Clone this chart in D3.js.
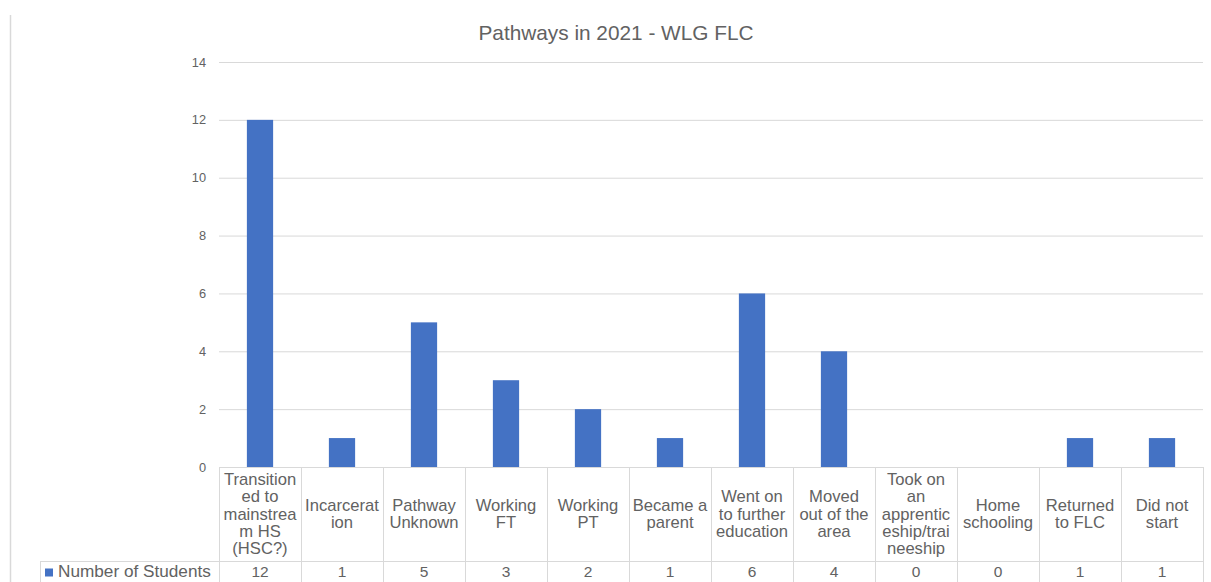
<!DOCTYPE html>
<html>
<head>
<meta charset="utf-8">
<script src="https://cdnjs.cloudflare.com/ajax/libs/d3/7.8.5/d3.min.js"></script>
<style>
  html, body { margin: 0; padding: 0; background: #fff; }
  svg { display: block; font-family: "Liberation Sans", Arial, sans-serif; }
</style>
</head>
<body>
<svg id="chart" width="1211" height="582"></svg>
<script>
const title = "Pathways in 2021 - WLG FLC";
const categories = [
  "Transition\ned to\nmainstrea\nm HS\n(HSC?)",
  "Incarcerat\nion",
  "Pathway\nUnknown",
  "Working\nFT",
  "Working\nPT",
  "Became a\nparent",
  "Went on\nto further\neducation",
  "Moved\nout of the\narea",
  "Took on\nan\napprentic\neship/trai\nneeship",
  "Home\nschooling",
  "Returned\nto FLC",
  "Did not\nstart"
];
const seriesName = "Number of Students";
const values = [12, 1, 5, 3, 2, 1, 6, 4, 0, 0, 1, 1];
const yTicks = [0, 2, 4, 6, 8, 10, 12, 14];

(function () {
const svg = d3.select("#chart");
const textColor = "#626262";
const gridColor = "#d9d9d9";
const barColor = "#4472C4";

const plotLeft = 219, plotRight = 1203, plotTop = 62, zeroY = 467;
const headerBottom = 561, tableBottom = 582, legendLeft = 40;

const x = d3.scaleBand().domain(d3.range(categories.length)).range([plotLeft, plotRight]).paddingInner(0.68).paddingOuter(0.34);
const xCell = d3.scaleBand().domain(d3.range(categories.length)).range([plotLeft, plotRight]);
const y = d3.scaleLinear().domain([0, 14]).range([zeroY, plotTop]);

// left frame line
svg.append("line").attr("x1", 10.5).attr("x2", 10.5).attr("y1", 15).attr("y2", 582)
  .attr("stroke", gridColor).attr("stroke-width", 1.5);

// title
svg.append("text").attr("x", 616).attr("y", 40).attr("text-anchor", "middle")
  .attr("fill", textColor).attr("font-size", 20.8).text(title);

// y axis with gridlines
const yAxis = d3.axisLeft(y).tickValues(yTicks).tickSize(-(plotRight - plotLeft)).tickPadding(13);
const gAxis = svg.append("g").attr("transform", `translate(${plotLeft},0)`).call(yAxis);
gAxis.select(".domain").remove();
gAxis.selectAll(".tick line").attr("stroke", gridColor).attr("stroke-width", 1);
gAxis.selectAll(".tick text").attr("fill", textColor).attr("font-size", 12.8)
  .attr("font-family", "Liberation Sans, Arial, sans-serif");

// bars
svg.append("g").selectAll("rect").data(values).join("rect")
  .attr("x", (d, i) => x(i))
  .attr("y", d => y(d))
  .attr("width", x.bandwidth())
  .attr("height", d => y(0) - y(d))
  .attr("fill", barColor);

// table borders
const tb = svg.append("g").attr("stroke", gridColor).attr("stroke-width", 1).attr("fill", "none");
categories.forEach((c, i) => {
  tb.append("line").attr("x1", xCell(i) + 0.5).attr("x2", xCell(i) + 0.5)
    .attr("y1", zeroY).attr("y2", tableBottom);
});
tb.append("line").attr("x1", plotRight + 0.5).attr("x2", plotRight + 0.5).attr("y1", zeroY).attr("y2", tableBottom);
tb.append("line").attr("x1", legendLeft + 0.5).attr("x2", plotRight).attr("y1", headerBottom + 0.5).attr("y2", headerBottom + 0.5);
tb.append("line").attr("x1", legendLeft + 0.5).attr("x2", legendLeft + 0.5).attr("y1", headerBottom).attr("y2", tableBottom);

// category labels
const lineH = 17.4;
const headerMid = (zeroY + headerBottom) / 2;
categories.forEach((c, i) => {
  const lines = c.split("\n");
  const cx = xCell(i) + xCell.bandwidth() / 2;
  const t = svg.append("text").attr("text-anchor", "middle").attr("fill", textColor).attr("font-size", 16.6);
  lines.forEach((ln, k) => {
    t.append("tspan").attr("x", cx)
      .attr("y", headerMid + (k - (lines.length - 1) / 2) * lineH + 5.5)
      .text(ln);
  });
});

// data row
svg.append("g").selectAll("text").data(values).join("text")
  .attr("x", (d, i) => xCell(i) + xCell.bandwidth() / 2)
  .attr("y", 577)
  .attr("text-anchor", "middle").attr("fill", textColor).attr("font-size", 15.5)
  .text(d => d);

// legend
svg.append("rect").attr("x", 45).attr("y", 568.5).attr("width", 8).attr("height", 8).attr("fill", barColor);
svg.append("text").attr("x", 58).attr("y", 577).attr("fill", textColor).attr("font-size", 17.2).text(seriesName);
})();
</script>
</body>
</html>
